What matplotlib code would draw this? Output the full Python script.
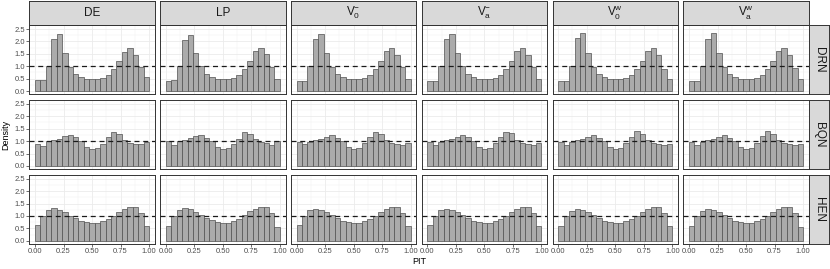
import numpy as np
import matplotlib
matplotlib.use("Agg")
import matplotlib.pyplot as plt
from matplotlib.ticker import MultipleLocator

plt.rcParams["font.family"] = ["Liberation Sans", "DejaVu Sans"]
plt.rcParams["mathtext.fontset"] = "custom"
plt.rcParams["mathtext.rm"] = "Liberation Sans"
plt.rcParams["mathtext.it"] = "Liberation Sans:italic"

# PIT histogram densities, 21 equal bins over [0, 1]
models = ["DE", "LP", r"$\mathrm{V}_{0}^{-}$", r"$\mathrm{V}_{\mathrm{a}}^{-}$",
          r"$\mathrm{V}_{0}^{\mathrm{w}}$", r"$\mathrm{V}_{\mathrm{a}}^{\mathrm{w}}$"]
rows = ["DRN", "BQN", "HEN"]
n_bins = 21

drn_de = [0.43, 0.45, 1.02, 2.08, 2.28, 1.53, 0.98, 0.69, 0.55, 0.49, 0.48, 0.50, 0.54, 0.65, 0.88, 1.22, 1.58, 1.72, 1.45, 0.95, 0.55]
drn_lp = [0.42, 0.45, 1.03, 2.05, 2.25, 1.55, 1.00, 0.70, 0.56, 0.50, 0.48, 0.50, 0.54, 0.65, 0.90, 1.22, 1.60, 1.75, 1.50, 0.95, 0.50]
drn_v0m = [0.41, 0.42, 1.00, 2.10, 2.30, 1.55, 0.99, 0.70, 0.56, 0.50, 0.48, 0.49, 0.53, 0.65, 0.88, 1.22, 1.60, 1.74, 1.47, 0.95, 0.50]
drn_vam = [0.41, 0.42, 1.00, 2.08, 2.30, 1.55, 1.00, 0.70, 0.56, 0.50, 0.49, 0.50, 0.53, 0.65, 0.88, 1.22, 1.60, 1.74, 1.47, 0.95, 0.48]
drn_v0w = [0.41, 0.42, 1.00, 2.12, 2.32, 1.53, 0.97, 0.69, 0.55, 0.49, 0.48, 0.49, 0.53, 0.65, 0.88, 1.23, 1.60, 1.72, 1.45, 0.90, 0.47]
drn_vaw = [0.41, 0.42, 1.00, 2.10, 2.32, 1.55, 0.98, 0.69, 0.55, 0.49, 0.48, 0.49, 0.53, 0.65, 0.88, 1.23, 1.60, 1.74, 1.45, 0.91, 0.47]

bqn_de = [0.90, 0.79, 1.01, 1.05, 1.09, 1.20, 1.24, 1.15, 0.99, 0.77, 0.70, 0.73, 0.90, 1.15, 1.37, 1.30, 1.05, 0.93, 0.90, 0.88, 0.98]
bqn_lp = [0.99, 0.83, 1.00, 1.05, 1.12, 1.20, 1.23, 1.12, 1.00, 0.75, 0.68, 0.72, 0.88, 1.10, 1.35, 1.30, 1.08, 0.98, 0.92, 0.84, 1.02]
bqn_v0m = [0.97, 0.88, 0.96, 1.04, 1.08, 1.16, 1.24, 1.14, 1.00, 0.75, 0.69, 0.74, 0.92, 1.18, 1.38, 1.30, 1.06, 0.91, 0.88, 0.86, 0.92]
bqn_vam = [0.97, 0.86, 0.97, 1.04, 1.08, 1.16, 1.25, 1.15, 1.00, 0.76, 0.69, 0.73, 0.91, 1.17, 1.38, 1.31, 1.05, 0.92, 0.89, 0.86, 0.92]
bqn_v0w = [0.95, 0.86, 0.97, 1.03, 1.08, 1.17, 1.24, 1.14, 0.99, 0.76, 0.70, 0.74, 0.92, 1.18, 1.40, 1.30, 1.05, 0.92, 0.90, 0.86, 0.88]
bqn_vaw = [0.95, 0.85, 0.97, 1.04, 1.09, 1.17, 1.25, 1.14, 0.99, 0.76, 0.70, 0.74, 0.92, 1.19, 1.41, 1.30, 1.05, 0.92, 0.89, 0.86, 0.87]

hen_de = [0.63, 1.00, 1.23, 1.31, 1.25, 1.15, 1.01, 0.91, 0.80, 0.75, 0.72, 0.73, 0.81, 0.89, 1.01, 1.16, 1.27, 1.37, 1.36, 1.13, 0.60]
hen_lp = [0.60, 0.98, 1.22, 1.32, 1.27, 1.17, 1.03, 0.92, 0.82, 0.75, 0.72, 0.73, 0.80, 0.88, 1.02, 1.18, 1.30, 1.38, 1.36, 1.10, 0.57]
hen_v0m = [0.62, 1.00, 1.22, 1.30, 1.25, 1.16, 1.02, 0.91, 0.81, 0.75, 0.72, 0.73, 0.80, 0.89, 1.01, 1.16, 1.28, 1.36, 1.35, 1.13, 0.60]
hen_vam = [0.62, 1.00, 1.22, 1.30, 1.26, 1.16, 1.02, 0.91, 0.81, 0.75, 0.72, 0.73, 0.80, 0.89, 1.01, 1.17, 1.28, 1.36, 1.35, 1.12, 0.60]
hen_v0w = [0.60, 0.99, 1.21, 1.30, 1.26, 1.16, 1.03, 0.92, 0.81, 0.75, 0.72, 0.73, 0.80, 0.88, 1.01, 1.17, 1.29, 1.37, 1.35, 1.12, 0.58]
hen_vaw = [0.60, 0.99, 1.21, 1.30, 1.26, 1.16, 1.03, 0.92, 0.81, 0.75, 0.72, 0.73, 0.80, 0.88, 1.01, 1.17, 1.29, 1.37, 1.36, 1.12, 0.57]

grid = [
    [drn_de, drn_lp, drn_v0m, drn_vam, drn_v0w, drn_vaw],
    [bqn_de, bqn_lp, bqn_v0m, bqn_vam, bqn_v0w, bqn_vaw],
    [hen_de, hen_lp, hen_v0m, hen_vam, hen_v0w, hen_vaw],
]

W, H = 830, 269
fig = plt.figure(figsize=(W / 100, H / 100), dpi=100)

def px_axes(x0, y0, w, h):
    # pixel box (top-left origin) -> figure fraction
    return fig.add_axes([x0 / W, 1 - (y0 + h) / H, w / W, h / H])

left0, col_step, pw = 29.3, 130.8, 125.5
top0, row_step, ph = 25.3, 74.85, 69.0
dark = "#333333"
edges = np.linspace(0, 1, n_bins + 1)

for i, rname in enumerate(rows):
    for j, mname in enumerate(models):
        x0 = left0 + j * col_step
        y0 = top0 + i * row_step
        ax = px_axes(x0, y0, pw, ph)
        ax.bar(edges[:-1], grid[i][j], width=1 / n_bins, align="edge",
               color="#ABABAB", edgecolor="#505050", linewidth=0.5, zorder=2)
        ax.axhline(1.0, color="#1a1a1a", ls=(0, (4, 3)), lw=0.9, zorder=3)
        ax.set_xlim(-0.05, 1.05)
        ax.set_ylim(-0.13, 2.65)
        ax.xaxis.set_major_locator(MultipleLocator(0.25))
        ax.xaxis.set_minor_locator(MultipleLocator(0.125))
        ax.yaxis.set_major_locator(MultipleLocator(0.5))
        ax.yaxis.set_minor_locator(MultipleLocator(0.25))
        ax.grid(which="major", color="#EBEBEB", lw=0.6, zorder=0)
        ax.grid(which="minor", color="#F2F2F2", lw=0.35, zorder=0)
        ax.set_axisbelow(True)
        for s in ax.spines.values():
            s.set_color(dark)
            s.set_linewidth(0.7)
        ax.tick_params(which="major", length=2, width=0.5, color=dark,
                       labelsize=5.5, labelcolor="#4D4D4D", pad=1.2)
        ax.tick_params(which="minor", length=0)
        if j == 0:
            ax.set_yticklabels([f"{v:.1f}" for v in ax.get_yticks()])
        else:
            ax.tick_params(axis="y", which="major", length=0, labelleft=False)
        if i == len(rows) - 1:
            ax.set_xticklabels([f"{v:.2f}" for v in ax.get_xticks()])
        else:
            ax.tick_params(axis="x", which="major", length=0, labelbottom=False)

        if i == 0:
            sx = px_axes(x0, 0.5, pw, top0 - 0.5)
            sx.set_facecolor("#D9D9D9")
            sx.set_xticks([]); sx.set_yticks([])
            for s in sx.spines.values():
                s.set_color(dark); s.set_linewidth(0.7)
            sx.text(0.5, 0.5, mname, ha="center", va="center",
                    fontsize=8.5, color="#1A1A1A", transform=sx.transAxes)
    sy = px_axes(left0 + 5 * col_step + pw, top0 + i * row_step, 20.5, ph)
    sy.set_facecolor("#D9D9D9")
    sy.set_xticks([]); sy.set_yticks([])
    for s in sy.spines.values():
        s.set_color(dark); s.set_linewidth(0.7)
    sy.text(0.5, 0.5, rname, ha="center", va="center", rotation=270,
            fontsize=8.5, color="#1A1A1A", transform=sy.transAxes)

fig.text((left0 + 5 * col_step + pw + left0) / 2 / W, 1 - 262 / H, "PIT",
         ha="center", va="center", fontsize=6.5)
fig.text(6 / W, 1 - 134.7 / H, "Density", ha="center", va="center",
         rotation=90, fontsize=6.5)

fig.savefig("out.png", dpi=100)
